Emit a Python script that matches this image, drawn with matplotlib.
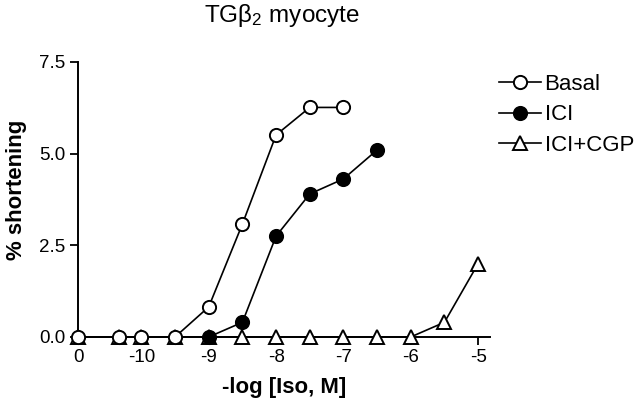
import matplotlib
matplotlib.use("Agg")
import matplotlib.pyplot as plt

plt.rcParams['font.family'] = ['Liberation Sans', 'DejaVu Sans']

# x values: -log[Iso]; 0 = no isoproterenol (drawn at a break position)
basal_x = [0, -10.33, -10, -9.5, -9, -8.5, -8, -7.5, -7]
basal_y = [0, 0, 0, 0, 0.82, 3.08, 5.51, 6.26, 6.26]
ici_x = [-9, -8.5, -8, -7.5, -7, -6.5]
ici_y = [0, 0.4, 2.75, 3.9, 4.31, 5.1]
cgp_x = [0, -10.33, -10, -9.5, -9, -8.5, -8, -7.5, -7, -6.5, -6, -5.5, -5]
cgp_y = [0, 0, 0, 0, 0, 0, 0, 0, 0, 0, 0, 0.4, 2.0]

xtick_vals = [0, -10, -9, -8, -7, -6, -5]
xtick_labels = ['0', '-10', '-9', '-8', '-7', '-6', '-5']
ytick_vals = [0, 2.5, 5, 7.5]
ytick_labels = ['0.0', '2.5', '5.0', '7.5']

ZERO_POS = -10.94  # where the "0" (control) point sits on the axis


def pos(xs):
    return [ZERO_POS if v == 0 else v for v in xs]


fig = plt.figure(figsize=(6.4, 4.05), dpi=100)
ax = fig.add_axes([0.122, 0.168, 0.644, 0.679])

lw = 1.2
ms = 9.5
ax.plot(pos(cgp_x), cgp_y, color='black', lw=lw, marker='^', ms=ms,
        mfc='white', mec='black', mew=1.4, clip_on=False, zorder=3, label='ICI+CGP')
ax.plot(pos(ici_x), ici_y, color='black', lw=lw, marker='o', ms=ms,
        mfc='black', mec='black', mew=1.4, clip_on=False, zorder=4, label='ICI')
ax.plot(pos(basal_x), basal_y, color='black', lw=lw, marker='o', ms=ms,
        mfc='white', mec='black', mew=1.4, clip_on=False, zorder=5, label='Basal')

ax.set_xlim(ZERO_POS, -4.82)
ax.set_ylim(0, 7.5)
ax.set_xticks(pos(xtick_vals))
ax.set_xticklabels(xtick_labels)
ax.set_yticks(ytick_vals)
ax.set_yticklabels(ytick_labels)

for s in ['top', 'right']:
    ax.spines[s].set_visible(False)
for s in ['left', 'bottom']:
    ax.spines[s].set_linewidth(1.4)
ax.tick_params(axis='both', direction='out', length=6, width=1.3,
               labelsize=13.5, pad=3)

fig.text(284 / 640, 1 - 388 / 405, '-log [Iso, M]', fontsize=16,
         fontweight='bold', ha='center', va='center')
fig.text(17 / 640, 1 - 190 / 405, '% shortening', fontsize=16,
         fontweight='bold', ha='center', va='center', rotation=90)
fig.text(0.44, 0.962, r'TG$\mathregular{\beta_2}$ myocyte', fontsize=17.5,
         ha='center', va='center')

handles, labels = ax.get_legend_handles_labels()
order = [2, 1, 0]
leg = fig.legend([handles[i] for i in order], [labels[i] for i in order],
                 loc='upper left', bbox_to_anchor=(499 / 640, 1 - 74 / 405),
                 frameon=False, borderpad=0, borderaxespad=0,
                 fontsize=16, handlelength=1.9, handletextpad=0.15,
                 labelspacing=0.42)

fig.savefig('out.png', dpi=100, facecolor='white')
